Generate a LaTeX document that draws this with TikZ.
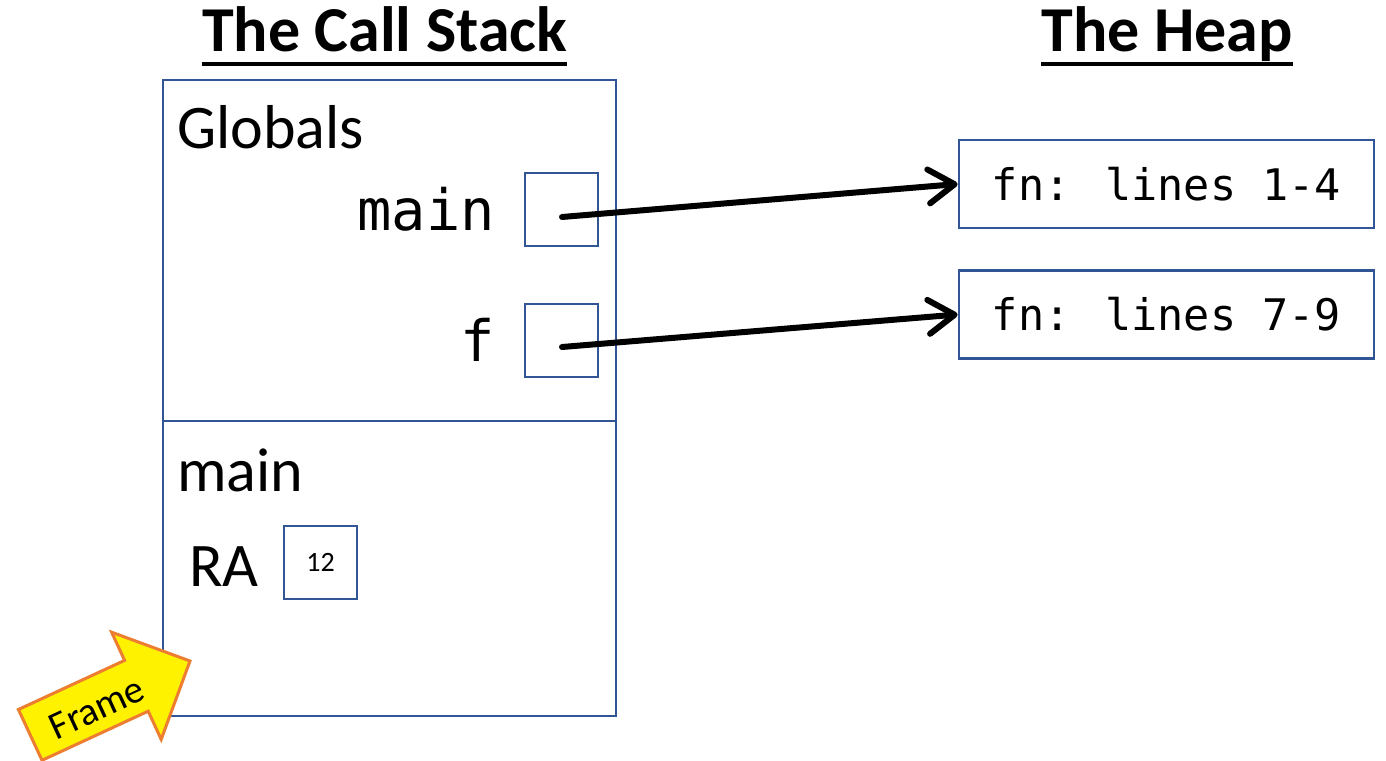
\documentclass[tikz,border=0pt]{standalone}
\usepackage{fontspec}
\setmainfont{Carlito}
\newfontfamily\monof{DejaVu Sans Mono}
\usetikzlibrary{arrows.meta,calc}
\definecolor{boxblue}{RGB}{50,85,150}
\definecolor{frameorange}{RGB}{237,125,49}
\begin{document}
\begin{tikzpicture}[x=1pt,y=-1pt,
  cell/.style={draw=boxblue,line width=2.8pt,minimum width=73pt,minimum height=73pt,inner sep=0pt},
  heapbox/.style={draw=boxblue,line width=2.8pt,minimum width=415pt,minimum height=88pt,inner sep=0pt,font=\monof\fontsize{43.5}{50}\selectfont},
  ptr/.style={line width=6pt,line cap=round,-{Straight Barb[length=26pt,width=34pt,round]}},
  lbl/.style={inner sep=0pt,font=\fontsize{62}{70}\selectfont},
  monolbl/.style={inner sep=0pt,font=\monof\fontsize{57}{64}\selectfont},
  titletext/.style={inner sep=0pt,font=\bfseries\fontsize{64}{72}\selectfont},
  framearrow/.style={draw=frameorange,fill=yellow,line width=3pt,line join=miter}]
\useasboundingbox (0,0) rectangle (1386,760);
% titles
\node[titletext,anchor=base] (t1) at (384.5,52) {The Call Stack};
\draw[line width=4pt] ([yshift=-12pt]t1.base west) -- ([yshift=-12pt]t1.base east);
\node[titletext,anchor=base] (t2) at (1167,52) {The Heap};
\draw[line width=4pt] ([yshift=-12pt]t2.base west) -- ([yshift=-12pt]t2.base east);
% stack
\node[draw=boxblue,line width=2.8pt,minimum width=453pt,minimum height=636pt,inner sep=0pt] (stack) at (389.5,398) {};
\draw[boxblue,line width=2.8pt] (stack.west |- 0,421) coordinate (d1) -- (stack.east |- 0,421) coordinate (d2);
\node[lbl,anchor=base west] (glob) at (177,148) {Globals};
\node[monolbl,anchor=base east] (mainl) at (495,230) {main};
\node[monolbl,anchor=base east] (fl) at (495,361) {f};
\node[cell] (mbox) at (561.5,209.5) {};
\node[cell] (fbox) at (561.5,340.5) {};
\node[lbl,anchor=base west] (mainf) at (177,491) {main};
\node[lbl,anchor=base west] (ra) at (189,586) {RA};
\node[cell,font=\fontsize{28}{32}\selectfont] (rabox) at (320.5,562.5) {12};
% heap
\node[heapbox] (h1) at (1166.5,184) {fn: lines 1-4};
\node[heapbox] (h2) at (1166.5,314.5) {fn: lines 7-9};
% pointers
\coordinate (s1) at (562,217);
\coordinate (s2) at (562,347);
\draw[ptr] (s1) -- (h1.west);
\draw[ptr] (s2) -- (h2.west);
% frame arrow
\draw[framearrow] (18.4,709.5) -- (124.6,660.4) -- (111.6,632.2) -- (190,661) -- (161.2,739.4) -- (148.2,711.2) -- (42,760.3) -- cycle;
\node[inner sep=0pt,rotate=24.8,font=\fontsize{39}{44}\selectfont] (frame) at (97,708) {Frame};
\end{tikzpicture}
\end{document}
